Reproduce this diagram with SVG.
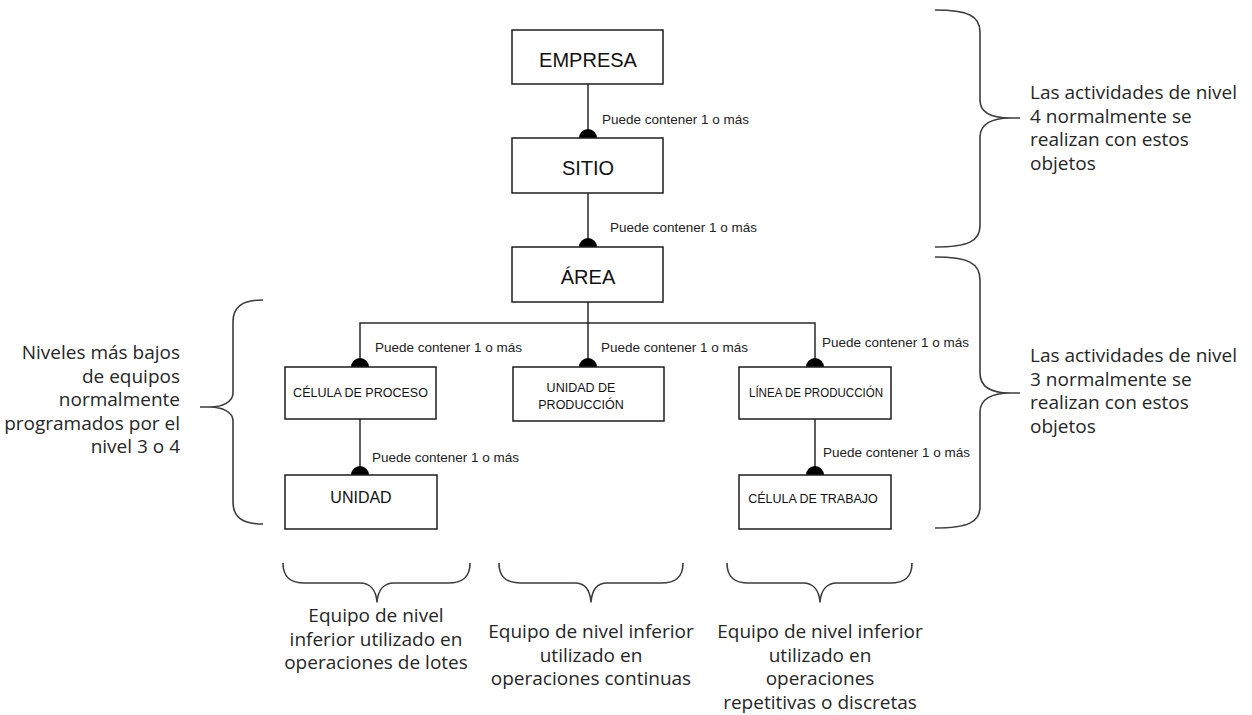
<svg xmlns="http://www.w3.org/2000/svg" xmlns:xlink="http://www.w3.org/1999/xlink" width="1252" height="715" viewBox="0 0 1252 715">
  <style>
    .box { fill: #ffffff; stroke: #1e1e1e; stroke-width: 1.5; }
    .wire { fill: none; stroke: #2a2a2a; stroke-width: 1.5; }
    .brace { fill: none; stroke: #3c3c3c; stroke-width: 1.6; stroke-linejoin: round; }
    .t-big { font-family: "Liberation Sans", Arial, sans-serif; font-size: 20px; fill: #111; text-anchor: middle; }
    .t-mid { font-family: "Liberation Sans", Arial, sans-serif; font-size: 16px; fill: #111; text-anchor: middle; }
    .t-small { font-family: "Liberation Sans", Arial, sans-serif; font-size: 12.5px; fill: #111; text-anchor: middle; }
    .lbl { font-family: "Liberation Sans", Arial, sans-serif; font-size: 13.5px; fill: #222; }
    .note { font-family: "Open Sans", "Noto Sans", sans-serif; font-size: 19px; fill: #262626; }
  </style>
  <defs>
    <!-- filled half-disc sitting on the top edge of a child box -->
    <path id="dot" d="M-9,0 A9,9 0 0 1 9,0 Z" fill="#000"/>
  </defs>

  <rect width="1252" height="715" fill="#ffffff"/>

  <!-- connectors -->
  <g id="connectors">
    <line class="wire" x1="588" y1="84" x2="588" y2="138"/>
    <line class="wire" x1="588" y1="193" x2="588" y2="247"/>
    <line class="wire" x1="588" y1="302" x2="588" y2="367"/>
    <polyline class="wire" points="360,367 360,323 815,323 815,367"/>
    <line class="wire" x1="360" y1="419" x2="360" y2="475"/>
    <line class="wire" x1="815" y1="419" x2="815" y2="475"/>
    <use xlink:href="#dot" x="588" y="138"/>
    <use xlink:href="#dot" x="588" y="247"/>
    <use xlink:href="#dot" x="360" y="367"/>
    <use xlink:href="#dot" x="588" y="367"/>
    <use xlink:href="#dot" x="815" y="367"/>
    <use xlink:href="#dot" x="360" y="475"/>
    <use xlink:href="#dot" x="815" y="475"/>
    <text class="lbl" x="602" y="124">Puede contener 1 o más</text>
    <text class="lbl" x="610" y="232">Puede contener 1 o más</text>
    <text class="lbl" x="375" y="352">Puede contener 1 o más</text>
    <text class="lbl" x="601" y="352">Puede contener 1 o más</text>
    <text class="lbl" x="822" y="347">Puede contener 1 o más</text>
    <text class="lbl" x="372" y="462">Puede contener 1 o más</text>
    <text class="lbl" x="823" y="457">Puede contener 1 o más</text>
  </g>

  <!-- nodes -->
  <g id="empresa">
    <rect class="box" x="512" y="30" width="151" height="54"/>
    <text class="t-big" x="588" y="67">EMPRESA</text>
  </g>
  <g id="sitio">
    <rect class="box" x="512" y="138" width="151" height="55"/>
    <text class="t-big" x="588" y="175">SITIO</text>
  </g>
  <g id="area">
    <rect class="box" x="512" y="247" width="151" height="55"/>
    <text class="t-big" x="588" y="284">ÁREA</text>
  </g>
  <g id="celula-proceso">
    <rect class="box" x="285" y="367" width="151" height="52"/>
    <text class="t-small" x="360.5" y="397">CÉLULA DE PROCESO</text>
  </g>
  <g id="unidad-produccion">
    <rect class="box" x="513" y="367" width="151" height="54"/>
    <text class="t-small" x="581" y="392">UNIDAD DE</text>
    <text class="t-small" x="581" y="409">PRODUCCIÓN</text>
  </g>
  <g id="linea-produccion">
    <rect class="box" x="739" y="367" width="152" height="52"/>
    <text class="t-small" x="816" y="397" textLength="134" lengthAdjust="spacingAndGlyphs">LÍNEA DE PRODUCCIÓN</text>
  </g>
  <g id="unidad">
    <rect class="box" x="285" y="475" width="152" height="54"/>
    <text class="t-mid" x="361" y="503">UNIDAD</text>
  </g>
  <g id="celula-trabajo">
    <rect class="box" x="739" y="475" width="152" height="54"/>
    <text class="t-small" x="813" y="503">CÉLULA DE TRABAJO</text>
  </g>

  <!-- level-4 brace -->
  <g id="nota-nivel4">
    <path class="brace" d="M935,10 C968,10 980,16 980,32 L980,100 C980,113 992,118 1010,118 L1020,118 M1010,118 C992,118 980,124 980,137 L980,226 C980,241 968,247 935,247"/>
    <text class="note" x="1030" y="99">Las actividades de nivel</text>
    <text class="note" x="1030" y="122.5">4 normalmente se</text>
    <text class="note" x="1030" y="146">realizan con estos</text>
    <text class="note" x="1030" y="169.5">objetos</text>
  </g>

  <!-- level-3 brace -->
  <g id="nota-nivel3">
    <path class="brace" d="M935,257 C968,257 980,263 980,280 L980,373 C980,387 992,393 1010,393 L1020,393 M1010,393 C992,393 980,399 980,412 L980,507 C980,522 968,528 935,528"/>
    <text class="note" x="1030" y="362">Las actividades de nivel</text>
    <text class="note" x="1030" y="385.5">3 normalmente se</text>
    <text class="note" x="1030" y="409">realizan con estos</text>
    <text class="note" x="1030" y="432.5">objetos</text>
  </g>

  <!-- lower-level brace on the left -->
  <g id="nota-niveles-bajos">
    <path class="brace" d="M263,300 C242,300 233,307 233,322 L233,393 C233,402 222,407 210,407 L200,407 M210,407 C222,407 233,412 233,421 L233,502 C233,517 242,524 263,524"/>
    <text class="note" x="180" y="359" text-anchor="end">Niveles más bajos</text>
    <text class="note" x="180" y="382.5" text-anchor="end">de equipos</text>
    <text class="note" x="180" y="406" text-anchor="end">normalmente</text>
    <text class="note" x="180" y="429.5" text-anchor="end">programados por el</text>
    <text class="note" x="180" y="453" text-anchor="end">nivel 3 o 4</text>
  </g>

  <!-- bottom braces -->
  <g id="nota-lotes">
    <path class="brace" d="M283,563 C283,577 290,583 305,583 L360,583 C370,583 376,590 377,602 C378,590 384,583 394,583 L448,583 C463,583 470,577 470,563"/>
    <text class="note" x="376" y="622" text-anchor="middle">Equipo de nivel</text>
    <text class="note" x="376" y="645.5" text-anchor="middle">inferior utilizado en</text>
    <text class="note" x="376" y="669" text-anchor="middle">operaciones de lotes</text>
  </g>
  <g id="nota-continuas">
    <path class="brace" d="M499,563 C499,577 506,583 521,583 L575,583 C585,583 590,590 591,602 C592,590 597,583 607,583 L661,583 C676,583 683,577 683,563"/>
    <text class="note" x="591" y="638" text-anchor="middle">Equipo de nivel inferior</text>
    <text class="note" x="591" y="661.5" text-anchor="middle">utilizado en</text>
    <text class="note" x="591" y="685" text-anchor="middle">operaciones continuas</text>
  </g>
  <g id="nota-discretas">
    <path class="brace" d="M727,563 C727,577 734,583 749,583 L803,583 C813,583 819,590 820,602 C821,590 827,583 837,583 L890,583 C905,583 912,577 912,563"/>
    <text class="note" x="820" y="638" text-anchor="middle">Equipo de nivel inferior</text>
    <text class="note" x="820" y="661.5" text-anchor="middle">utilizado en</text>
    <text class="note" x="820" y="685" text-anchor="middle">operaciones</text>
    <text class="note" x="820" y="708.5" text-anchor="middle">repetitivas o discretas</text>
  </g>
</svg>
